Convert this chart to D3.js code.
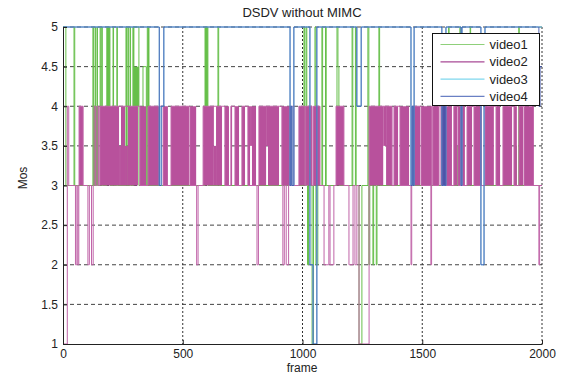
<!DOCTYPE html>
<html>
<head>
<meta charset="utf-8">
<script src="https://cdn.jsdelivr.net/npm/d3@7"></script>
<style>
  body { margin: 0; background: #fff; }
  text { font-family: "Liberation Sans", Arial, sans-serif; fill: #222; }
</style>
</head>
<body>
<svg id="chart" width="566" height="376"></svg>
<script>
// MOS per frame, as step change points [frame, value]
const xTicks = [0, 500, 1000, 1500, 2000];
const yTicks = [1, 1.5, 2, 2.5, 3, 3.5, 4, 4.5, 5];
const seriesNames = ["video1", "video2", "video3", "video4"];

const video1Steps = [
  [0,5],[12,3],[46,5],[49,3],[125,5],[127,3],[134,5],[136,3],[142,5],[144,3],[155,5],[158,3],
  [162,5],[164,3],[183,5],[196,3],[209,5],[211,3],[225,5],[227,3],[263,5],[265,3],[271,5],[273,3],
  [280,5],[282,3],[292,5],[294,3],[296,5],[317,3],[334,4.5],[348,3],[352,5],[355,3],[357,5],[359,3],
  [593,5],[605,3],[647,5],[650,3],[1006,5],[1009,3],[1015,5],[1018,3],[1021,2],[1025,3],
  [1040,1],[1046,3],[1052,5],[1056,2],[1064,3],[1081,5],[1084,3],[1096,5],[1099,3],
  [1144,5],[1148,4.5],[1152,3],[1207,5],[1210,3],[1221,5],[1224,3],[1236,1],[1248,3],
  [1273,5],[1277,2],[1281,3],[1294,2],[1297,3],[1308,2],[1311,3],[1319,5],[1322,3],
  [1610,5],[1612,3],[1645,3.5],[1648,3],[1657,5],[1660,3],[1700,5],[1702,3],
  [1890,3.5],[1893,3],[1903,5],[1905,3],[2000,3]
];
// dense switching regions of video1: [from, to, low, high]
const video1Bands = [[129,142,3,4],[183,196,4,5],[296,317,4,4.5],[593,605,4,5]];

const video2Steps = [
  [0,1],[18,4],[24,3],[52,2],[58,3],[62,2],[66,3],[67,4],[84,3],[104,2],[110,3],[119,2],[126,3],
  [130,4],[136,3],[142,4],[148,3],[154,4],[313,4],[321,3],[347,3],[355,4],[405,4],[418,3],[438,3],
  [451,4],[526,4],[530,3],[556,3],[558,2],[564,3],[585,4],[664,4],[676,3],[693,3],[701,4],[706,4],
  [718,3],[735,3],[747,4],[760,4],[772,3],[806,3],[810,2],[816,3],[818,4],[902,4],[914,3],[918,2],
  [924,3],[932,2],[942,3],[956,4],[964,3],[985,4],[1010,3],[1013,4],[1040,3],[1046,4],[1073,3],
  [1090,2],[1110,3],[1115,2],[1131,3],[1140,4],[1173,3],[1194,2],[1211,3],[1219,2],[1227,3],
  [1236,1],[1278,4],[1374,3],[1382,4],[1399,4],[1407,3],[1445,3],[1453,2],[1456,3],[1457,4],
  [1491,4],[1495,3],[1536,2],[1539,3],[1540,4],[1544,3],[1570,4],[1578,3],[1624,3],[1632,4],
  [1645,4],[1649,3],[1678,3],[1687,4],[1708,4],[1716,3],[1749,3],[1762,4],[1799,4],[1808,3],
  [1825,3],[1837,4],[1875,4],[1883,3],[1895,3],[1904,4],[1921,4],[1925,3],[1966,3],[1987,2],
  [1990,3],[2000,3]
];
const video2Bands = [
  [67,84,3,4],[154,234,3,4],[234,242,3,3.5],[242,259,3,4],[259,271,3,3.5],[271,313,3,4],
  [321,347,3,4],[355,405,3,4],[418,438,3,4],[451,526,3,4],[530,556,3,4],[585,630,3,4],
  [630,639,3,3.5],[639,664,3,4],[676,693,3,4],[701,706,3,4],[718,735,3,4],[747,760,3,4],
  [772,781,3,4],[781,789,3.5,4],[789,806,3,4],[818,848,3,4],[848,856,3.5,4],[856,902,3,4],
  [914,956,3,4],[985,1010,3,4],[1013,1040,3,4],[1046,1073,3,4],[1140,1173,3,4],
  [1278,1337,3,4],[1337,1349,3.5,4],[1349,1374,3,4],[1382,1399,3,4],[1407,1445,3,4],
  [1457,1491,3,4],[1495,1540,3,4],[1544,1570,3,4],[1578,1624,3,4],[1632,1645,3,4],
  [1649,1678,3,4],[1687,1708,3,4],[1716,1749,3,4],[1762,1799,3,4],[1808,1825,3,4],
  [1837,1875,3,4],[1883,1895,3,4],[1904,1921,3,4],[1925,1966,3,4]
];

// video3 lies under video4 everywhere
const video3Steps = [
  [0,5],[402,3],[410,4],[421,5],[948,3],[952,4],[956,3],[964,5],[1031,2],[1044,1],[1060,5],
  [1227,4],[1245,5],[1453,3],[1458,4],[1462,3],[1466,5],[1582,3],[1599,5],[1662,3],[1666,5],
  [1745,2],[1758,4],[1762,5],[2000,5]
];
const video4Steps = [
  [0,5],[402,3],[410,4],[421,5],[948,3],[952,4],[956,3],[964,5],[1031,2],[1044,1],[1060,5],
  [1227,4],[1245,5],[1453,3],[1458,4],[1462,3],[1466,5],[1582,3],[1586,4],[1589,3],[1593,4],
  [1596,3],[1599,5],[1662,3],[1666,5],[1745,2],[1752,2],[1758,4],[1762,5],[1987,4],[1992,4.5],
  [2000,4.5]
];

const colors = { video1: "#66bf4a", video2: "#b8519c", video3: "#72d3ee", video4: "#4257ab" };

const svg = d3.select("#chart");
const x = d3.scaleLinear().domain([0, 2000]).range([63, 542]);
const y = d3.scaleLinear().domain([1, 5]).range([344, 27]);

// grid
svg.append("g").selectAll("line").data(yTicks.filter(v => v > 1)).join("line")
  .attr("x1", x(0)).attr("x2", x(2000))
  .attr("y1", d => y(d)).attr("y2", d => y(d))
  .attr("stroke", "#444").attr("stroke-dasharray", "4,3");
svg.append("g").selectAll("line").data(xTicks.filter(v => v > 0)).join("line")
  .attr("x1", d => x(d)).attr("x2", d => x(d))
  .attr("y1", y(5)).attr("y2", y(1))
  .attr("stroke", "#333").attr("stroke-dasharray", "2,2");

const line = d3.line().x(d => x(d[0])).y(d => y(d[1])).curve(d3.curveStepAfter);

function bands(data, color) {
  svg.append("g").selectAll("rect").data(data).join("rect")
    .attr("x", d => x(d[0])).attr("width", d => x(d[1]) - x(d[0]))
    .attr("y", d => y(d[3])).attr("height", d => y(d[2]) - y(d[3]))
    .attr("fill", color);
}
function steps(data, color, w) {
  svg.append("path").datum(data).attr("d", line)
    .attr("fill", "none").attr("stroke", color).attr("stroke-width", w || 1);
}

bands(video1Bands, colors.video1);
steps(video1Steps, colors.video1);
bands(video2Bands, colors.video2);
steps(video2Steps, "#c064a8");
steps(video3Steps, colors.video3);
steps(video4Steps, colors.video4, 0.9);

// axes
const yAxis = svg.append("g").attr("transform", `translate(${x(0)},0)`)
  .call(d3.axisLeft(y).tickValues(yTicks).tickFormat(d3.format("")).tickSizeInner(-4).tickSizeOuter(0).tickPadding(5));
const xAxis = svg.append("g").attr("transform", `translate(0,${y(1)})`)
  .call(d3.axisBottom(x).tickValues(xTicks).tickFormat(d3.format("d")).tickSizeInner(-4).tickSizeOuter(0).tickPadding(5));
[yAxis, xAxis].forEach(a => {
  a.select(".domain").attr("stroke", "#222");
  a.selectAll(".tick line").attr("stroke", "#222");
  a.selectAll("text").attr("font-size", 12).attr("fill", "#222")
    .style("font-family", '"Liberation Sans", Arial, sans-serif');
});

svg.append("text").attr("x", 302).attr("y", 17).attr("text-anchor", "middle")
  .attr("font-size", 13).text("DSDV without MIMC");
svg.append("text").attr("x", 302).attr("y", 372).attr("text-anchor", "middle")
  .attr("font-size", 12).text("frame");
svg.append("text").attr("transform", "translate(27,178) rotate(-90)").attr("text-anchor", "middle")
  .attr("font-size", 12).text("Mos");

// legend
const leg = svg.append("g").attr("transform", "translate(432.5,33.5)");
leg.append("rect").attr("width", 107).attr("height", 72).attr("fill", "#fff").attr("stroke", "#111");
const legColors = ["#8fd07a", "#a84a96", "#7fd7ee", "#6a80c4"];
seriesNames.forEach((n, i) => {
  const yy = 11 + i * 17.3;
  leg.append("line").attr("x1", 8).attr("x2", 52).attr("y1", yy).attr("y2", yy)
    .attr("stroke", legColors[i]).attr("stroke-width", 1.2);
  leg.append("text").attr("x", 57).attr("y", yy + 4.5).attr("font-size", 13).text(n);
});
</script>
</body>
</html>
